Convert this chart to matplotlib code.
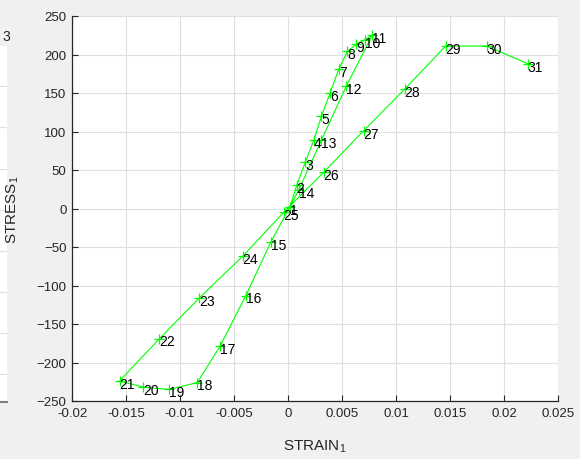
import matplotlib
matplotlib.use("Agg")
import matplotlib.pyplot as plt
import numpy as np

plt.rcParams['font.family'] = ['Liberation Sans', 'DejaVu Sans']

# Data
point_ids = list(range(1, 32))
strain = [0.0002, 0.0008, 0.0016, 0.0024, 0.0031, 0.0039, 0.0047, 0.0055, 0.0063, 0.0071, 0.0078,
          0.0054, 0.0031, 0.0010, -0.0016, -0.0039, -0.0063, -0.0084, -0.0110, -0.0134, -0.0156,
          -0.0119, -0.0082, -0.0042, -0.0004, 0.0033, 0.0070, 0.0108, 0.0146, 0.0184, 0.0222]
stress = [2, 30, 60, 89, 120, 150, 181, 204, 213, 219, 225,
          159, 89, 24, -44, -113, -179, -226, -235, -232, -224,
          -169, -116, -62, -5, 47, 101, 155, 211, 211, 188]

xticks = [-0.02, -0.015, -0.01, -0.005, 0, 0.005, 0.01, 0.015, 0.02, 0.025]
xtick_labels = ['-0.02', '-0.015', '-0.01', '-0.005', '0', '0.005', '0.01', '0.015', '0.02', '0.025']
yticks = [-250, -200, -150, -100, -50, 0, 50, 100, 150, 200, 250]

W, H = 580, 460
fig = plt.figure(figsize=(W / 100, H / 100), dpi=100)
fig.patch.set_facecolor('#f0f0f0')

tick_col = '#262626'
grid_col = '#dfdfdf'

# Left partial panel (clipped neighbouring plot)
axl = fig.add_axes([0, (H - 403) / H, 7 / W, (403 - 47) / H])
axl.set_facecolor('white')
axl.set_xlim(0, 1)
axl.set_ylim(0, 356)
axl.set_xticks([])
axl.set_yticks([28, 69, 110, 151, 192, 233, 275, 316])
axl.tick_params(left=False, labelleft=False)
axl.grid(True, axis='y', color=grid_col, linewidth=0.8)
for s in ['top', 'right', 'left']:
    axl.spines[s].set_visible(False)
axl.spines['bottom'].set_color('#808080')
axl.spines['bottom'].set_linewidth(1.5)
fig.text(2 / W, 1 - 37 / H, '3', fontsize=10, color='#262626', ha='left', va='center')

# Main axes
ax = fig.add_axes([72 / W, (H - 402) / H, (558 - 72) / W, (402 - 17) / H])
ax.set_facecolor('white')
ax.plot(strain, stress, color='#00ff00', linewidth=0.8, marker='+', markersize=6.5,
        markeredgewidth=0.9, zorder=3)
for pid, sx, sy in zip(point_ids, strain, stress):
    ax.annotate(str(pid), (sx, sy), xytext=(0, -2), textcoords='offset points',
                fontsize=10, color='black', ha='left', va='center', zorder=4)

ax.set_xlim(-0.02, 0.025)
ax.set_ylim(-250, 250)
ax.set_xticks(xticks)
ax.set_xticklabels(xtick_labels)
ax.set_yticks(yticks)
ax.grid(True, color=grid_col, linewidth=0.8, zorder=0)
ax.set_axisbelow(True)
ax.tick_params(direction='in', length=4, width=0.8, colors=tick_col, labelsize=9.5,
               labelcolor=tick_col, pad=4)
for s in ['top', 'right']:
    ax.spines[s].set_visible(False)
for s in ['left', 'bottom']:
    ax.spines[s].set_color(tick_col)
    ax.spines[s].set_linewidth(0.9)

ax.set_xlabel('STRAIN$_\\mathregular{1}$', fontsize=11, color=tick_col)
ax.set_ylabel('STRESS$_\\mathregular{1}$', fontsize=11, color=tick_col)
ax.xaxis.set_label_coords(0.5, -0.095)
ax.yaxis.set_label_coords(-0.105, 0.5)

fig.savefig('out.png', dpi=100, facecolor=fig.get_facecolor())
